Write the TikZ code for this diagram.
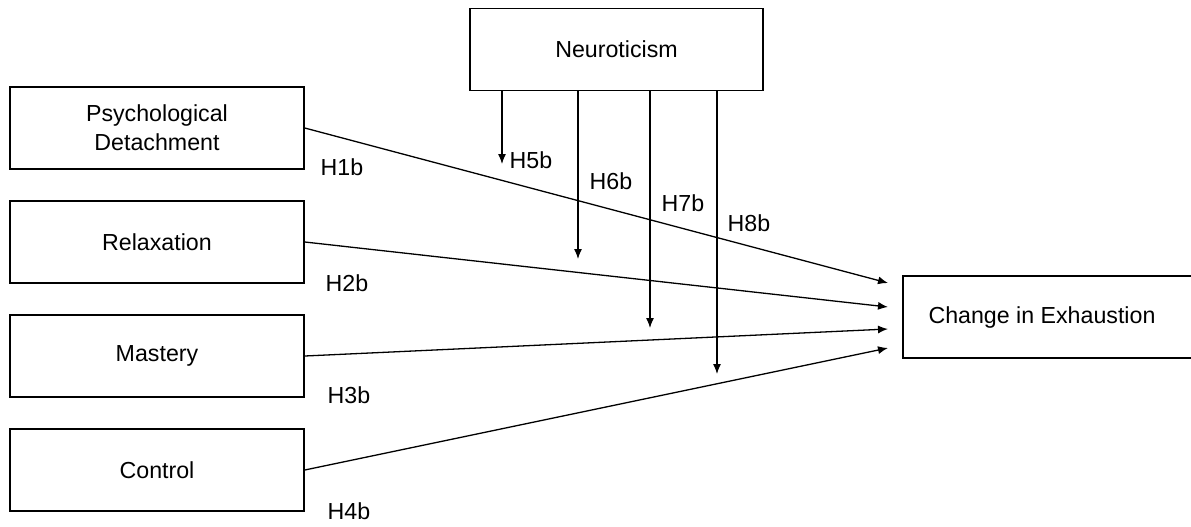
\documentclass[tikz,border=0pt]{standalone}
\usepackage{fontspec}
\setmainfont{Liberation Sans}
\usetikzlibrary{arrows.meta,positioning}

\begin{document}
\begin{tikzpicture}[x=0.5pt,y=-0.5pt,
  box/.style={draw,line width=0.8pt,minimum width=147pt,minimum height=41pt,align=center,font=\fontsize{11.6}{14.5}\selectfont},
  lbl/.style={inner sep=0pt,font=\fontsize{11.6}{14.5}\selectfont},
  arr/.style={-{Latex[length=5pt,width=4pt]},line width=0.65pt}]
  \useasboundingbox (0,0) rectangle (1191,526);
  % Predictors
  \node[box] (detach) at (157,128) {Psychological\\Detachment};
  \node[box] (relax) at (157,242) {Relaxation};
  \node[box] (mastery) at (157,356) {Mastery};
  \node[box] (control) at (157,470) {Control};
  % Moderator and outcome
  \node[box,minimum width=146.5pt] (neuro) at (616.5,49.5) {Neuroticism};
  \node[box,minimum width=147pt] (exhaust) at (1050,317) {\hspace*{-8pt}Change in Exhaustion};
  % Free arrow ends
  \coordinate (e1) at (888,283);
  \coordinate (e2) at (888,307);
  \coordinate (e3) at (888,329);
  \coordinate (e4) at (888,348);
  \coordinate (m5) at (502,164);
  \coordinate (m6) at (578,259);
  \coordinate (m7) at (650,328);
  \coordinate (m8) at (717,374);
  % Direct paths
  \draw[arr] (detach.east) -- (e1);
  \draw[arr] (relax.east) -- (e2);
  \draw[arr] (mastery.east) -- (e3);
  \draw[arr] (control.east) -- (e4);
  % Moderation paths
  \draw[arr] (neuro.south -| m5) -- (m5);
  \draw[arr] (neuro.south -| m6) -- (m6);
  \draw[arr] (neuro.south -| m7) -- (m7);
  \draw[arr] (neuro.south -| m8) -- (m8);
  % Hypothesis labels
  \node[lbl] (h1) at (342,167) {H1b};
  \node[lbl] (h2) at (347,283) {H2b};
  \node[lbl] (h3) at (349,395) {H3b};
  \node[lbl] (h4) at (349,511) {H4b};
  \node[lbl] (h5) at (531,160) {H5b};
  \node[lbl] (h6) at (611,181) {H6b};
  \node[lbl] (h7) at (683,203) {H7b};
  \node[lbl] (h8) at (749,223) {H8b};
\end{tikzpicture}
\end{document}
